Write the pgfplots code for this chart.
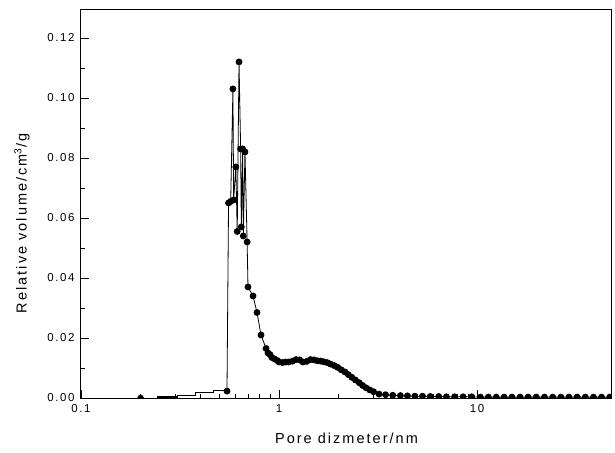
\documentclass[border=0pt]{standalone}
\usepackage{fontspec}
\setmainfont{Liberation Sans}
\newfontfamily\labfont[LetterSpace=14]{Liberation Sans}
\newfontfamily\tickfont[LetterSpace=14]{Liberation Sans}
\usepackage{pgfplots}
\pgfplotsset{compat=1.18}
\begin{document}
\begin{tikzpicture}
\useasboundingbox (-81bp,-55bp) rectangle (534bp,398bp);
\begin{axis}[
  at={(0,0)}, anchor=south west,
  scale only axis, width=531bp, height=388bp,
  xmode=log, xmin=0.1, xmax=48,
  ymin=0, ymax=0.1293,
  xtick={0.1,1,10}, xticklabels={0.1,1,10},
  ytick={0,0.02,0.04,0.06,0.08,0.1,0.12},
  minor ytick={0.01,0.03,0.05,0.07,0.09,0.11},
  yticklabel style={/pgf/number format/fixed, /pgf/number format/fixed zerofill, /pgf/number format/precision=2, font=\tickfont\fontsize{11.5bp}{13bp}\selectfont, xshift=-3bp},
  xticklabel style={font=\tickfont\fontsize{11.5bp}{13bp}\selectfont, yshift=-3bp},
  /pgf/number format/assume math mode=true,
  tick pos=left, tick align=inside,
  major tick length=8bp, minor tick length=4bp,
  every tick/.style={black, line width=0.8bp},
  axis line style={line width=1bp},
  clip marker paths=true,
  xlabel={Pore dizmeter/nm},
  ylabel={Relative volume/cm\textsuperscript{3}/g},
  xlabel style={font=\labfont\fontsize{14.5bp}{16bp}\selectfont, at={(axis description cs:0.5,-0.103)}, anchor=center},
  ylabel style={font=\labfont\fontsize{14.5bp}{16bp}\selectfont, at={(axis description cs:-0.111,0.45)}, anchor=center},
]
% low-diameter step trace (no visible markers)
\addplot[black, line width=0.8bp, no marks] coordinates {
(0.2,0.0) (0.242,0.0) (0.305,0.0) (0.305,0.001) (0.377,0.001) (0.377,0.0019)
(0.465,0.0019) (0.465,0.0026) (0.546,0.0026)
};
\addplot[black, line width=2bp, no marks] coordinates {(0.242,0.0003) (0.305,0.0003)};
\addplot[black, only marks, mark=*, mark size=3bp] coordinates {(0.2,0.0)};
\addplot[black, line width=0.8bp, mark=*, mark size=3bp, mark options={solid, fill=black}] coordinates {
(0.546,0.0023) (0.556,0.065) (0.57,0.0655) (0.585,0.103) (0.59,0.066) (0.605,0.077)
(0.615,0.0555) (0.628,0.112) (0.64,0.083) (0.645,0.057) (0.655,0.083) (0.66,0.054)
(0.673,0.082) (0.69,0.052) (0.697,0.037) (0.739,0.034) (0.774,0.0285) (0.811,0.021)
(0.86,0.0165) (0.88,0.015) (0.9,0.0145) (0.92,0.0135) (0.95,0.013) (0.98,0.0125)
(1.0,0.012) (1.04,0.0118) (1.08,0.012) (1.12,0.012) (1.17,0.0123) (1.22,0.0128)
(1.27,0.0127) (1.32,0.012) (1.38,0.0122) (1.44,0.0128) (1.5,0.0127) (1.56,0.0124)
(1.62,0.0123) (1.68,0.0121) (1.75,0.0118) (1.82,0.0113) (1.9,0.0108) (1.98,0.0102)
(2.06,0.0094) (2.15,0.0087) (2.24,0.0078) (2.33,0.0069) (2.43,0.006) (2.54,0.0051)
(2.64,0.0042) (2.75,0.0034) (2.87,0.0027) (3.0,0.0021)
(3.2,0.0013) (3.45,0.0011) (3.75,0.0009) (4.1,0.0008) (4.45,0.0007) (4.85,0.0006)
(5.3,0.0006) (5.8,0.0005) (6.4,0.0005) (7.0,0.0004) (7.7,0.0004) (8.5,0.0004)
(9.4,0.0004) (10.4,0.0003) (11.4,0.0003) (12.5,0.0003) (13.7,0.0003)
(15.0,0.0003) (16.5,0.0003) (18.1,0.0003) (19.9,0.0003) (21.9,0.0003)
(24.1,0.0003) (26.5,0.0003) (29.1,0.0003) (32.0,0.0003) (35.2,0.0003)
(38.7,0.0003) (42.5,0.0003) (46.8,0.0003)
};
\end{axis}
\end{tikzpicture}
\end{document}
